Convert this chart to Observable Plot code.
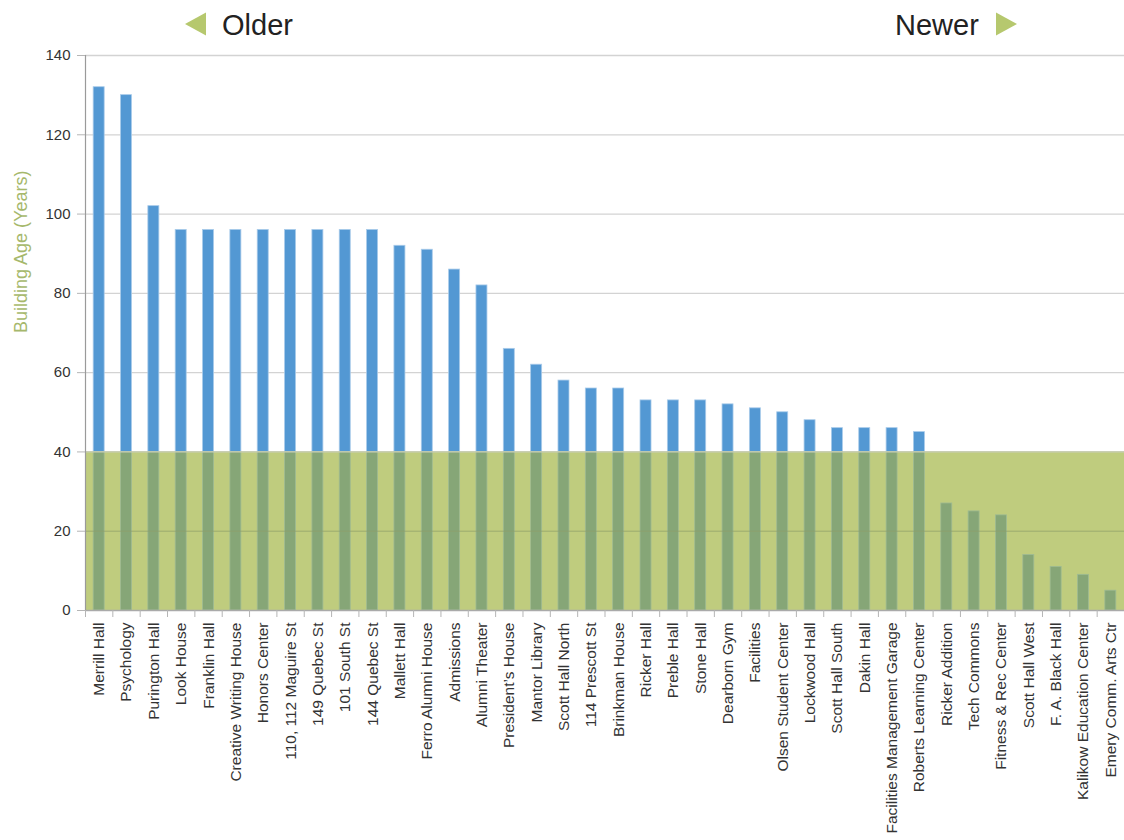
<!DOCTYPE html>
<html>
<head>
<meta charset="utf-8">
<script src="https://cdn.jsdelivr.net/npm/d3@7"></script>
<script src="https://cdn.jsdelivr.net/npm/@observablehq/plot@0.6"></script>
<style>
  html, body { margin: 0; padding: 0; background: #fff; }
  #wrap { position: relative; width: 1124px; height: 840px; }
  #header { position: absolute; left: 0; top: 0; pointer-events: none; }
  #header text { font-family: "Liberation Sans", Arial, Helvetica, sans-serif; font-size: 29px; fill: #222; }
</style>
</head>
<body>
<div id="wrap">
  <div id="chart"></div>
  <svg id="header" width="1124" height="50">
    <polygon points="185,24 206,12.5 206,35.5" fill="#b6c86e"></polygon>
    <text x="222" y="35">Older</text>
    <text x="895" y="35">Newer</text>
    <polygon points="1017,24 996,12.5 996,35.5" fill="#b6c86e"></polygon>
  </svg>
</div>
<script>
// Campus buildings, ordered oldest to newest
const buildings = [
  "Merrill Hall", "Psychology", "Purington Hall", "Look House", "Franklin Hall",
  "Creative Writing House", "Honors Center", "110, 112 Maguire St", "149 Quebec St",
  "101 South St", "144 Quebec St", "Mallett Hall", "Ferro Alumni House", "Admissions",
  "Alumni Theater", "President\u2019s House", "Mantor Library", "Scott Hall North",
  "114 Prescott St", "Brinkman House", "Ricker Hall", "Preble Hall", "Stone Hall",
  "Dearborn Gym", "Facilities", "Olsen Student Center", "Lockwood Hall",
  "Scott Hall South", "Dakin Hall", "Facilities Management Garage",
  "Roberts Learning Center", "Ricker Addition", "Tech Commons", "Fitness & Rec Center",
  "Scott Hall West", "F. A. Black Hall", "Kalikow Education Center", "Emery Comm. Arts Ctr"
];

// Building age in years
const ages = [
  132, 130, 102, 96, 96,
  96, 96, 96, 96,
  96, 96, 92, 91, 86,
  82, 66, 62, 58,
  56, 56, 53, 53, 53,
  52, 51, 50, 48,
  46, 46, 46,
  45, 27, 25, 24,
  14, 11, 9, 5
];

// Age below which a building counts as "newer" (shaded band)
const newerLimit = 40;

const yTicks = [0, 20, 40, 60, 80, 100, 120, 140];

const data = buildings.map((name, i) => ({name, age: ages[i]}));

const W = 1124, H = 840;
const mL = 85, mR = 0, mT = 55, mB = 230;
const step = (W - mL - mR) / buildings.length;
const barInset = (step - 11) / 2;

const blue = "#5398d3";
const bandFill = "#bfcc7e";
const underFill = "#86a677";

const chart = Plot.plot({
  width: W,
  height: H,
  marginLeft: mL,
  marginRight: mR,
  marginTop: mT,
  marginBottom: mB,
  style: {fontFamily: "'Liberation Sans', Arial, Helvetica, sans-serif", background: "#fff"},
  x: {domain: buildings, padding: 0, round: false, label: null},
  y: {domain: [0, 140], label: null},
  marks: [
    // horizontal gridlines
    Plot.ruleY(yTicks.filter(t => t > 0), {stroke: "#d3d3d3", strokeWidth: 1.3}),
    // portion of each bar above the band
    Plot.barY(data.filter(d => d.age > newerLimit), {
      x: "name", y1: newerLimit, y2: "age", fill: blue,
      stroke: "#a9cbea", strokeWidth: 0.8,
      insetLeft: barInset, insetRight: barInset
    }),
    // "newer" band
    Plot.rectY([newerLimit], {y1: 0, y2: d => d, fill: bandFill}),
    // portion of each bar inside the band
    Plot.barY(data, {
      x: "name", y: d => Math.min(d.age, newerLimit), fill: underFill,
      stroke: "#9fbb93", strokeWidth: 0.8,
      insetLeft: barInset, insetRight: barInset
    }),
    Plot.ruleY([20], {stroke: "#8e9e6a", strokeOpacity: 0.7}),
    Plot.ruleY([newerLimit], {stroke: "#c9cdb8", strokeWidth: 1.3}),
    // axis lines
    Plot.ruleY([0], {stroke: "#aaaaaa", strokeWidth: 1.3}),
    Plot.ruleX([buildings[0]], {x: d => d, y1: 0, y2: 140, dx: -step / 2, stroke: "#9a9a9a", strokeWidth: 1.2}),
    // y axis
    Plot.axisY({ticks: yTicks, tickSize: 8, tickPadding: 7, stroke: "#b5b5b5", fill: "#333", fontSize: 15, label: null}),
    // x ticks between categories
    Plot.axisX({tickSize: 7, stroke: "#b5b5b5", fill: "none", dx: -step / 2, label: null}),
    // x labels
    Plot.axisX({tickSize: 0, tickPadding: 12, tickRotate: -90, stroke: "none", fill: "#333", fontSize: 15.5, label: null}),
    // y axis title
    Plot.text(["Building Age (Years)"], {
      frameAnchor: "left", rotate: -90, dx: -64, fontSize: 18, fill: "#a6b86c"
    })
  ]
});

document.getElementById("chart").appendChild(chart);
</script>
</body>
</html>
